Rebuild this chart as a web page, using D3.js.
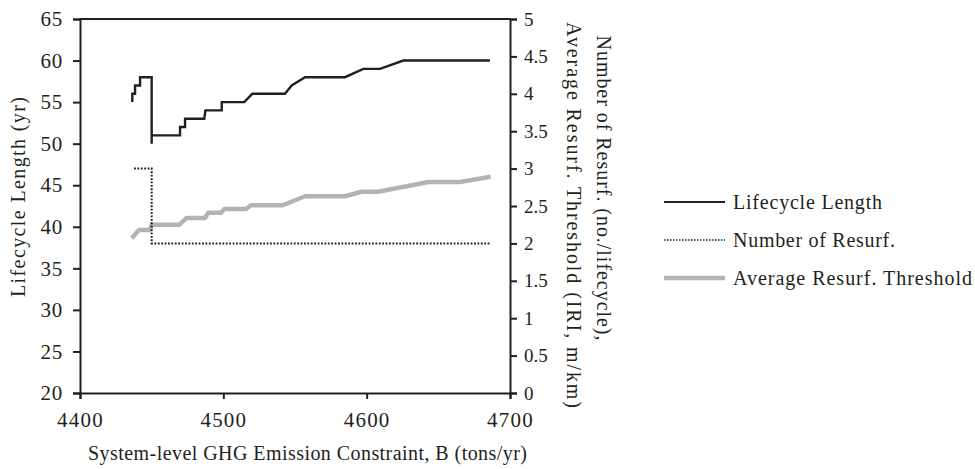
<!DOCTYPE html>
<html>
<head>
<meta charset="utf-8">
<script src="https://cdn.jsdelivr.net/npm/d3@7"></script>
<style>
  body { margin: 0; background: #fff; }
  text { font-family: "Liberation Serif", "Times New Roman", serif; fill: #231f20; }
</style>
</head>
<body>
<script>
// values
var lifeB = [4436.5, 4436.5, 4438.4, 4438.4, 4441.9, 4441.9, 4450, 4450, 4450, 4469.8, 4469.8, 4473.3, 4473.3,
             4486.7, 4487.5, 4498.9, 4498.9, 4514.6, 4520.2, 4543, 4547.7, 4557, 4584.9, 4597.7, 4609.3, 4625.6, 4686];
var lifeLen = [55, 56, 56, 57, 57, 58, 58, 50, 51, 51, 52, 52, 53,
               53, 54, 54, 55, 55, 56, 56, 57, 58, 58, 59, 59, 60, 60];

var resurfB = [4437.7, 4450, 4450, 4686];
var resurfNo = [3, 3, 2, 2];

var threshB = [4436.1, 4441.2, 4448.8, 4450, 4469.3, 4474.4, 4487.2, 4489.5, 4498.4, 4500.7,
               4515.8, 4519.3, 4541.4, 4557, 4584.9, 4596.5, 4608.1, 4643, 4665.1, 4686.5];
var threshIRI = [2.07, 2.18, 2.18, 2.25, 2.25, 2.34, 2.34, 2.41, 2.41, 2.46,
                 2.46, 2.51, 2.51, 2.63, 2.63, 2.69, 2.69, 2.82, 2.82, 2.89];

var xTicks = [4400, 4500, 4600, 4700];
var leftTicks = [20, 25, 30, 35, 40, 45, 50, 55, 60, 65];
var rightTicks = [0, 0.5, 1, 1.5, 2, 2.5, 3, 3.5, 4, 4.5, 5];
var legendNames = ["Lifecycle Length", "Number of Resurf.", "Average Resurf. Threshold"];

var W = 975, H = 469;
var margin = {top: 19, right: 465, bottom: 76, left: 80};
var width = W - margin.left - margin.right,
    height = H - margin.top - margin.bottom;

var svg = d3.select("body").append("svg")
    .attr("width", W)
    .attr("height", H);

var g = svg.append("g")
    .attr("transform", "translate(" + margin.left + "," + margin.top + ")");

var x = d3.scaleLinear().domain([4400, 4700]).range([0, width]),
    yL = d3.scaleLinear().domain([20, 65]).range([height, 0]),
    yR = d3.scaleLinear().domain([0, 5]).range([height, 0]);

var ink = "#231f20";

// frame top line
g.append("line")
    .attr("x1", 0).attr("x2", width)
    .attr("y1", 0).attr("y2", 0)
    .attr("stroke", ink).attr("stroke-width", 2);

var xAxis = g.append("g")
    .attr("transform", "translate(0," + height + ")")
    .call(d3.axisBottom(x).tickValues(xTicks).tickSizeOuter(0).tickSize(6).tickPadding(13).tickFormat(d3.format("d")));

var yAxisL = g.append("g")
    .call(d3.axisLeft(yL).tickValues(leftTicks).tickSizeOuter(0).tickSize(7).tickPadding(10));

var yAxisR = g.append("g")
    .attr("transform", "translate(" + width + ",0)")
    .call(d3.axisRight(yR).tickValues(rightTicks).tickSizeOuter(0).tickSize(7).tickPadding(7).tickFormat(d3.format("")));

[xAxis, yAxisL, yAxisR].forEach(function(a) {
  a.selectAll("path, line").attr("stroke", ink).attr("stroke-width", 2);
  a.selectAll("text").attr("font-family", null).attr("fill", ink);
});
xAxis.selectAll("text").attr("font-size", 21).attr("letter-spacing", 1.2);
yAxisL.selectAll("text").attr("font-size", 21).attr("letter-spacing", 0.8);
yAxisR.selectAll("text").attr("font-size", 19);

// series
var lineL = d3.line()
    .x(function(d) { return x(d[0]); })
    .y(function(d) { return yL(d[1]); });
var lineR = d3.line()
    .x(function(d) { return x(d[0]); })
    .y(function(d) { return yR(d[1]); });

g.append("path")
    .datum(d3.zip(threshB, threshIRI))
    .attr("fill", "none")
    .attr("stroke", "#b3b3b3")
    .attr("stroke-width", 4.5)
    .attr("stroke-linejoin", "round")
    .attr("d", lineR);

g.append("path")
    .datum(d3.zip(resurfB, resurfNo))
    .attr("fill", "none")
    .attr("stroke", ink)
    .attr("stroke-width", 2)
    .attr("stroke-dasharray", "1.8,1.6")
    .attr("d", lineR);

g.append("path")
    .datum(d3.zip(lifeB, lifeLen))
    .attr("fill", "none")
    .attr("stroke", ink)
    .attr("stroke-width", 2.4)
    .attr("d", lineL);

// axis titles
svg.append("text")
    .attr("transform", "translate(25,197) rotate(-90)")
    .attr("text-anchor", "middle")
    .attr("font-size", 20)
    .attr("textLength", 200)
    .attr("lengthAdjust", "spacing")
    .text("Lifecycle Length (yr)");

var rt = svg.append("text")
    .attr("transform", "translate(597,205) rotate(90)")
    .attr("text-anchor", "middle")
    .attr("font-size", 20);
rt.append("tspan").attr("x", -17).attr("y", 0)
    .attr("textLength", 305).attr("lengthAdjust", "spacing")
    .text("Number of Resurf. (no./lifecycle),");
rt.append("tspan").attr("x", 10).attr("y", 30)
    .attr("textLength", 386).attr("lengthAdjust", "spacing")
    .text("Average Resurf. Threshold (IRI, m/km)");

svg.append("text")
    .attr("x", 88)
    .attr("y", 460)
    .attr("font-size", 20)
    .attr("textLength", 439)
    .attr("lengthAdjust", "spacing")
    .text("System-level GHG Emission Constraint, B (tons/yr)");

// legend
var styles = [
  {stroke: ink, width: 2, dash: null, len: 149},
  {stroke: ink, width: 1.5, dash: "1.5,1.5", len: 162},
  {stroke: "#b3b3b3", width: 4.5, dash: null, len: 239}
];
var leg = svg.append("g").attr("transform", "translate(664,202)");
var item = leg.selectAll("g")
    .data(legendNames)
    .enter().append("g")
    .attr("transform", function(d, i) { return "translate(0," + i * 38 + ")"; });
item.append("line")
    .attr("x1", 0).attr("x2", 61)
    .attr("stroke", function(d, i) { return styles[i].stroke; })
    .attr("stroke-width", function(d, i) { return styles[i].width; })
    .attr("stroke-dasharray", function(d, i) { return styles[i].dash; });
item.append("text")
    .attr("x", 69)
    .attr("dy", "0.35em")
    .attr("font-size", 20)
    .attr("textLength", function(d, i) { return styles[i].len; })
    .attr("lengthAdjust", "spacing")
    .text(function(d) { return d; });
</script>
</body>
</html>
